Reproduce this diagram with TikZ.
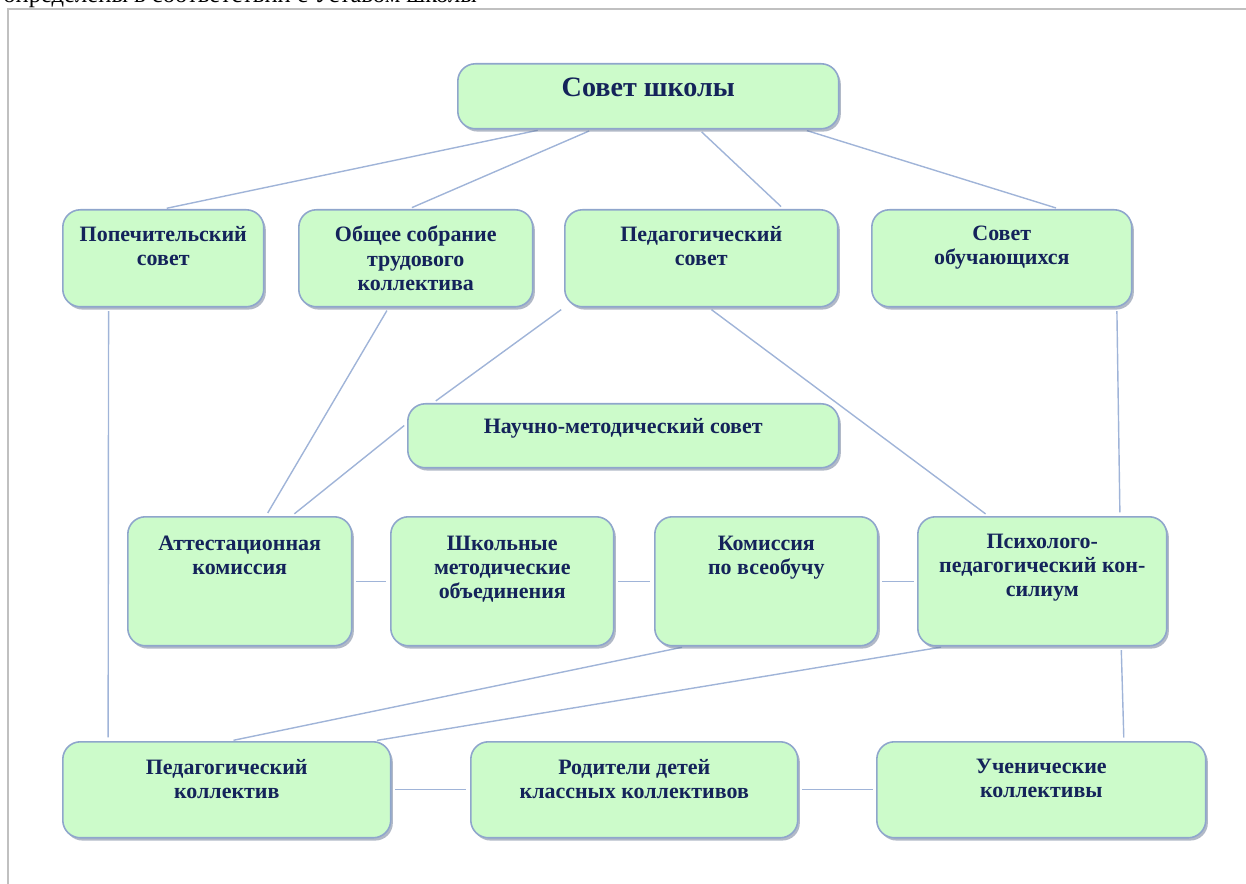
\documentclass[tikz,border=0pt]{standalone}
\usepackage{fontspec}
\setmainfont{Liberation Serif}
\usetikzlibrary{positioning}
\usetikzlibrary{calc}
\usetikzlibrary{shadows}
\usetikzlibrary{backgrounds}

\definecolor{boxfill}{HTML}{CCFBCA}
\definecolor{boxline}{HTML}{8FA6CC}
\definecolor{linkline}{HTML}{A0B4D8}
\definecolor{boxtext}{HTML}{14235A}
\definecolor{frameline}{HTML}{C0C0C0}

\begin{document}
\begin{tikzpicture}[
    x=0.02cm, y=-0.02cm,
    block/.style={rectangle, rounded corners=10pt, draw=boxline, line width=0.9pt, fill=boxfill,
        anchor=north west, inner sep=0pt,
        drop shadow={shadow xshift=1.2pt, shadow yshift=-1.6pt, fill=boxline!70!black, opacity=0.5}},
    boxlabel/.style={anchor=north, yshift=#1, align=center, inner sep=0pt, text=boxtext,
        font=\bfseries\fontsize{12.5}{13.8}\selectfont},
    boxlabel/.default=-10pt,
    link/.style={draw=linkline, line width=0.8pt, shorten <=2pt, shorten >=2pt},
]
    \useasboundingbox (0,0) rectangle (1246,884);

    \node[anchor=base west, inner sep=0pt, font=\fontsize{14}{16}\selectfont] (hdr) at (3,3)
        {определены в соответствии с Уставом школы};
    \draw[frameline, line width=1pt] (8,884) -- (8,9) -- (1246,9);

    \node[block, minimum width=7.62cm, minimum height=1.30cm,
        label={[boxlabel=-8.5pt, font=\bfseries\fontsize{16}{19}\selectfont]north:Совет школы}] (ss) at (457,63) {};

    \node[block, minimum width=4.02cm, minimum height=1.94cm,
        label={[boxlabel=-9.5pt]north:{Попечительский\\совет}}] (pop) at (62,209) {};
    \node[block, minimum width=4.68cm, minimum height=1.94cm,
        label={[boxlabel=-9.5pt]north:{Общее собрание\\трудового\\коллектива}}] (obs) at (298,209) {};
    \node[block, minimum width=5.46cm, minimum height=1.94cm,
        label={[boxlabel=-9.5pt]north:{Педагогический\\совет}}] (ped) at (564,209) {};
    \node[block, minimum width=5.20cm, minimum height=1.94cm,
        label={[boxlabel=-9.5pt]north:{Совет\\обучающихся}}] (sob) at (871,209) {};

    \node[block, minimum width=8.62cm, minimum height=1.28cm,
        label={[boxlabel=-8.5pt]north:Научно-методический совет}] (nms) at (407,403) {};

    \node[block, minimum width=4.48cm, minimum height=2.58cm,
        label={[boxlabel=-11pt]north:{Аттестационная\\комиссия}}] (att) at (127,516) {};
    \node[block, minimum width=4.46cm, minimum height=2.58cm,
        label={[boxlabel=-11pt]north:{Школьные\\методические\\объединения}}] (shmo) at (390,516) {};
    \node[block, minimum width=4.46cm, minimum height=2.58cm,
        label={[boxlabel=-11pt]north:{Комиссия\\по всеобучу}}] (kom) at (654,516) {};
    \node[block, minimum width=4.98cm, minimum height=2.58cm,
        label={[boxlabel=-10pt]north:{Психолого-\\педагогический кон-\\силиум}}] (ppk) at (917,516) {};

    \node[block, minimum width=6.56cm, minimum height=1.92cm,
        label={[boxlabel]north:{Педагогический\\коллектив}}] (pk) at (62,741) {};
    \node[block, minimum width=6.54cm, minimum height=1.92cm,
        label={[boxlabel]north:{Родители детей\\классных коллективов}}] (rod) at (470,741) {};
    \node[block, minimum width=6.58cm, minimum height=1.92cm,
        label={[boxlabel]north:{Ученические\\коллективы}}] (uch) at (876,741) {};

    \begin{scope}[on background layer]
        \draw[link] ($(ss.south west)!0.22!(ss.south east)$) -- (pop.north);
        \draw[link] ($(ss.south west)!0.354!(ss.south east)$) -- ($(obs.north west)!0.47!(obs.north east)$);
        \draw[link] ($(ss.south west)!0.633!(ss.south east)$) -- ($(ped.north west)!0.80!(ped.north east)$);
        \draw[link] ($(ss.south west)!0.906!(ss.south east)$) -- ($(sob.north west)!0.72!(sob.north east)$);

        \draw[link] ($(pop.south west)!0.23!(pop.south east)$) -- ($(pk.north west)!0.14!(pk.north east)$);
        \draw[link] ($(obs.south west)!0.385!(obs.south east)$) -- ($(att.north west)!0.616!(att.north east)$);
        \draw[link] (ped.south west) -- ($(nms.north west)!0.06!(nms.north east)$);
        \draw[link] ($(nms.north west)!0.31!(nms.south west)$) -- ($(att.north west)!0.73!(att.north east)$);
        \draw[link] ($(ped.south west)!0.527!(ped.south east)$) -- ($(ppk.north west)!0.285!(ppk.north east)$);
        \draw[link] ($(sob.south west)!0.94!(sob.south east)$) -- ($(ppk.north west)!0.81!(ppk.north east)$);

        \draw[link] (att.east) -- (shmo.west);
        \draw[link] (shmo.east) -- (kom.west);
        \draw[link] (kom.east) -- (ppk.west);

        \draw[link] ($(kom.south west)!0.14!(kom.south east)$) -- ($(pk.north west)!0.51!(pk.north east)$);
        \draw[link] ($(ppk.south west)!0.11!(ppk.south east)$) -- ($(pk.north west)!0.945!(pk.north east)$);
        \draw[link] ($(ppk.south west)!0.815!(ppk.south east)$) -- ($(uch.north west)!0.75!(uch.north east)$);

        \draw[link] (pk.east) -- (rod.west);
        \draw[link] (rod.east) -- (uch.west);
    \end{scope}
\end{tikzpicture}
\end{document}
